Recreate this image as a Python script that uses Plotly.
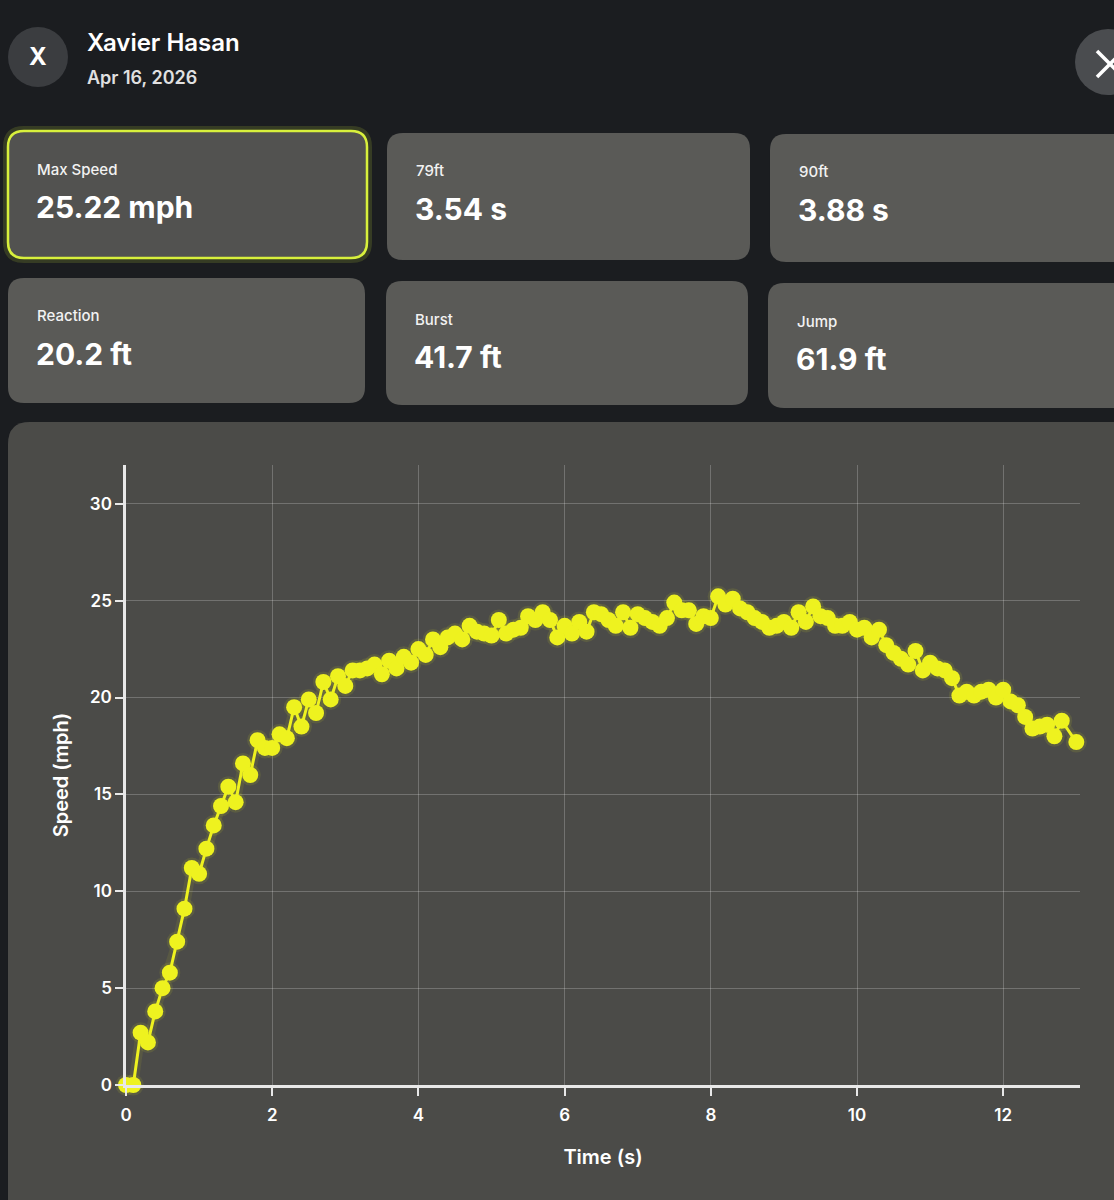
import plotly.graph_objects as go

W, H = 1114, 1200

# sprint trace (time in s, speed in mph)
time_s = [
    0.0, 0.1, 0.2, 0.3, 0.4, 0.5, 0.6, 0.7, 0.8, 0.9,
    1.0, 1.1, 1.2, 1.3, 1.4, 1.5, 1.6, 1.7, 1.8, 1.9,
    2.0, 2.1, 2.2, 2.3, 2.4, 2.5, 2.6, 2.7, 2.8, 2.9,
    3.0, 3.1, 3.2, 3.3, 3.4, 3.5, 3.6, 3.7, 3.8, 3.9,
    4.0, 4.1, 4.2, 4.3, 4.4, 4.5, 4.6, 4.7, 4.8, 4.9,
    5.0, 5.1, 5.2, 5.3, 5.4, 5.5, 5.6, 5.7, 5.8, 5.9,
    6.0, 6.1, 6.2, 6.3, 6.4, 6.5, 6.6, 6.7, 6.8, 6.9,
    7.0, 7.1, 7.2, 7.3, 7.4, 7.5, 7.6, 7.7, 7.8, 7.9,
    8.0, 8.1, 8.2, 8.3, 8.4, 8.5, 8.6, 8.7, 8.8, 8.9,
    9.0, 9.1, 9.2, 9.3, 9.4, 9.5, 9.6, 9.7, 9.8, 9.9,
    10.0, 10.1, 10.2, 10.3, 10.4, 10.5, 10.6, 10.7, 10.8, 10.9,
    11.0, 11.1, 11.2, 11.3, 11.4, 11.5, 11.6, 11.7, 11.8, 11.9,
    12.0, 12.1, 12.2, 12.3, 12.4, 12.5, 12.6, 12.7, 12.8, 13.0,
]
speed_mph = [
    0.0, 0.0, 2.7, 2.2, 3.8, 5.0, 5.8, 7.4, 9.1, 11.2,
    10.9, 12.2, 13.4, 14.4, 15.4, 14.6, 16.6, 16.0, 17.8, 17.4,
    17.4, 18.1, 17.9, 19.5, 18.5, 19.9, 19.2, 20.8, 19.9, 21.1,
    20.6, 21.4, 21.4, 21.5, 21.7, 21.2, 21.9, 21.5, 22.1, 21.8,
    22.5, 22.2, 23.0, 22.6, 23.1, 23.3, 23.0, 23.7, 23.4, 23.3,
    23.2, 24.0, 23.3, 23.5, 23.6, 24.2, 24.0, 24.4, 24.0, 23.1,
    23.7, 23.3, 23.9, 23.4, 24.4, 24.3, 24.0, 23.7, 24.4, 23.6,
    24.3, 24.1, 23.9, 23.7, 24.1, 24.9, 24.5, 24.5, 23.8, 24.2,
    24.1, 25.22, 24.8, 25.1, 24.6, 24.4, 24.1, 23.9, 23.6, 23.7,
    23.9, 23.6, 24.4, 23.9, 24.7, 24.2, 24.1, 23.7, 23.7, 23.9,
    23.5, 23.6, 23.1, 23.5, 22.7, 22.3, 22.0, 21.7, 22.4, 21.4,
    21.8, 21.5, 21.4, 21.0, 20.1, 20.3, 20.1, 20.3, 20.4, 20.0,
    20.4, 19.8, 19.6, 19.0, 18.4, 18.5, 18.6, 18.0, 18.8, 17.7,
]

athlete = "Xavier Hasan"
session_date = "Apr 16, 2026"
card_labels = ["Max Speed", "79ft", "90ft", "Reaction", "Burst", "Jump"]
card_values = ["25.22 mph", "3.54 s", "3.88 s", "20.2 ft", "41.7 ft", "61.9 ft"]

y_ticks = [0, 5, 10, 15, 20, 25, 30]
x_ticks = [0, 2, 4, 6, 8, 10, 12]

YELLOW = "#eef21f"
FONT = "Inter, Roboto, Liberation Sans, sans-serif"


def px(x):
    return x / W


def py(y):
    return 1 - y / H


def rounded(x0, y0, x1, y1, r):
    # pixel box (top-left origin) -> paper-space path with rounded corners
    pts = [
        ("M", x0 + r, y0), ("L", x1 - r, y0), ("Q", x1, y0, x1, y0 + r),
        ("L", x1, y1 - r), ("Q", x1, y1, x1 - r, y1), ("L", x0 + r, y1),
        ("Q", x0, y1, x0, y1 - r), ("L", x0, y0 + r), ("Q", x0, y0, x0 + r, y0),
    ]
    out = []
    for p in pts:
        cmd, vals = p[0], p[1:]
        coords = []
        for i in range(0, len(vals), 2):
            coords.append(f"{px(vals[i]):.5f},{py(vals[i + 1]):.5f}")
        out.append(cmd + " " + " ".join(coords))
    return " ".join(out) + " Z"


fig = go.Figure()

# soft glow behind the trace
fig.add_trace(go.Scatter(
    x=time_s, y=speed_mph, mode="lines+markers",
    line=dict(color="rgba(238,242,31,0.08)", width=10),
    marker=dict(color="rgba(238,242,31,0.10)", size=21),
    hoverinfo="skip", showlegend=False, cliponaxis=False,
))
fig.add_trace(go.Scatter(
    x=time_s, y=speed_mph, mode="lines+markers",
    line=dict(color=YELLOW, width=3),
    marker=dict(color=YELLOW, size=16),
    showlegend=False, cliponaxis=False,
))

shapes = []
# chart panel
shapes.append(dict(type="path", path=rounded(8, 422, 1140, 1230, 22),
                   xref="paper", yref="paper", fillcolor="#4b4b48",
                   line=dict(width=0), layer="below"))

# stat cards
boxes = [
    (8, 131, 367, 258), (387, 133, 750, 260), (770, 134, 1140, 262),
    (8, 278, 365, 403), (386, 281, 748, 405), (768, 283, 1140, 408),
]
for i, (x0, y0, x1, y1) in enumerate(boxes):
    if i == 0:
        shapes.append(dict(type="path", path=rounded(x0 - 2, y0 - 2, x1 + 2, y1 + 2, 18),
                           xref="paper", yref="paper", fillcolor="rgba(0,0,0,0)",
                           line=dict(color="rgba(215,240,60,0.15)", width=6), layer="below"))
        shapes.append(dict(type="path", path=rounded(x0, y0, x1, y1, 16),
                           xref="paper", yref="paper", fillcolor="#525250",
                           line=dict(color="#d8f03c", width=2.5), layer="below"))
    else:
        shapes.append(dict(type="path", path=rounded(x0, y0, x1, y1, 16),
                           xref="paper", yref="paper", fillcolor="#5a5a57",
                           line=dict(width=0), layer="below"))

# avatar + close button
shapes.append(dict(type="circle", xref="paper", yref="paper",
                   x0=px(8), x1=px(68), y0=py(87), y1=py(27),
                   fillcolor="#3b3d40", line=dict(width=0), layer="below"))
shapes.append(dict(type="circle", xref="paper", yref="paper",
                   x0=px(1075), x1=px(1141), y0=py(95), y1=py(29),
                   fillcolor="#4a4c4f", line=dict(width=0), layer="below"))
for a, b in [((1097, 51), (1123, 77)), ((1097, 77), (1123, 51))]:
    shapes.append(dict(type="line", xref="paper", yref="paper",
                       x0=px(a[0]), y0=py(a[1]), x1=px(b[0]), y1=py(b[1]),
                       line=dict(color="white", width=3.5)))

annotations = [
    dict(x=px(38), y=py(57), text="X", xanchor="center", yanchor="middle",
         font=dict(family=FONT, size=24, color="white", weight=700)),
    dict(x=px(85), y=py(42), text=athlete, xanchor="left", yanchor="middle",
         font=dict(family=FONT, size=24, color="white", weight=600)),
    dict(x=px(85), y=py(77), text=session_date, xanchor="left", yanchor="middle",
         font=dict(family=FONT, size=18, color="#e0e0e0", weight=600)),
]
for (x0, y0, x1, y1), lab, val in zip(boxes, card_labels, card_values):
    annotations.append(dict(x=px(x0 + 27), y=py(y0 + 38), text=lab,
                            xanchor="left", yanchor="middle",
                            font=dict(family=FONT, size=15, color="#f2f2f2", weight=500)))
    annotations.append(dict(x=px(x0 + 26), y=py(y0 + 76), text=val,
                            xanchor="left", yanchor="middle",
                            font=dict(family=FONT, size=30, color="white", weight=700)))

for a in annotations:
    a.update(xref="paper", yref="paper", showarrow=False)

fig.update_layout(
    width=W, height=H,
    margin=dict(l=0, r=0, t=0, b=0),
    paper_bgcolor="#1b1d20",
    plot_bgcolor="rgba(0,0,0,0)",
    shapes=shapes,
    annotations=annotations,
    font=dict(family=FONT, color="white"),
    xaxis=dict(
        domain=[px(126), px(1080)], range=[0, 13.05],
        tickvals=x_ticks, ticks="outside", ticklen=8, tickwidth=2, tickcolor="#e8e8e8",
        ticklabelstandoff=5,
        showline=True, linecolor="#e8e8e8", linewidth=2.5,
        showgrid=True, gridcolor="rgba(255,255,255,0.22)", gridwidth=1,
        zeroline=False, automargin=False,
        tickfont=dict(family=FONT, size=17, color="white", weight=600),
        title=dict(text="Time (s)", standoff=26,
                   font=dict(family=FONT, size=20, color="white", weight=600)),
    ),
    yaxis=dict(
        domain=[py(1085), py(465)], range=[0, 32],
        tickvals=y_ticks, ticks="outside", ticklen=8, tickwidth=2, tickcolor="#e8e8e8",
        showline=True, linecolor="#e8e8e8", linewidth=2.5,
        showgrid=True, gridcolor="rgba(255,255,255,0.22)", gridwidth=1,
        zeroline=False, automargin=False,
        tickfont=dict(family=FONT, size=17, color="white", weight=600),
        title=dict(text="Speed (mph)", standoff=16,
                   font=dict(family=FONT, size=20, color="white", weight=600)),
    ),
)

# drop the browser's default 8px body margin so the figure fills the window
fig.write_html("out.html", config={"displayModeBar": False},
               post_script="document.body.style.margin='0px';")
